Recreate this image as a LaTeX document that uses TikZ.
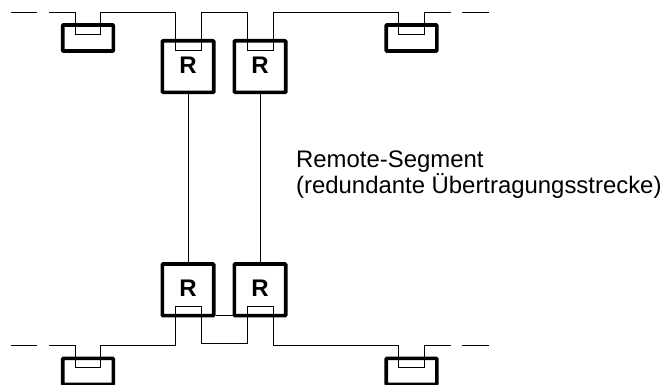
\documentclass[tikz,border=0pt]{standalone}
\usepackage{fontspec}
\setmainfont{Liberation Sans}
\tikzset{
  device/.style={draw=black,line width=3.6pt,rounded corners=0.8pt,fill=white,inner sep=0pt,minimum width=#1},
  hostbox/.style={device=50.6pt,minimum height=26pt},
  repeater/.style={device=51.4pt,minimum height=51.6pt},
  wire/.style={draw=black,line width=0.9pt,line join=miter},
  rlabel/.style={font=\bfseries\fontsize{24}{26}\selectfont,inner sep=0pt}
}
\begin{document}
\begin{tikzpicture}[x=1pt,y=-1pt]
\useasboundingbox (0,0) rectangle (663,384);
\clip (0,0) rectangle (663,384);
% devices
\node[hostbox] (h1) at (88,38) {};
\node[hostbox] (h2) at (411.5,38) {};
\node[hostbox] (h3) at (88,371.3) {};
\node[hostbox] (h4) at (411.5,371.3) {};
\node[repeater] (r1) at (188,66.5) {};
\node[repeater] (r2) at (260,66.5) {};
\node[repeater] (r3) at (188,289.8) {};
\node[repeater] (r4) at (260,289.8) {};
\node[rlabel] (l1) at (188,64.8) {R};
\node[rlabel] (l2) at (260,64.8) {R};
\node[rlabel] (l3) at (188,288) {R};
\node[rlabel] (l4) at (260,288) {R};
% bus points
\coordinate (a0) at (11,12.7); \coordinate (a1) at (37,12.7);
\coordinate (a2) at (49,12.7); \coordinate (a3) at (75,12.7);
\coordinate (a4) at (100.6,12.7); \coordinate (a5) at (175.3,12.7);
\coordinate (a6) at (201,12.7); \coordinate (a7) at (247.3,12.7);
\coordinate (a8) at (273,12.7); \coordinate (a9) at (398.3,12.7);
\coordinate (a10) at (424.3,12.7); \coordinate (a11) at (450.7,12.7);
\coordinate (a12) at (462,12.7); \coordinate (a13) at (488.7,12.7);
\coordinate (b0) at (11,345.7); \coordinate (b1) at (37,345.7);
\coordinate (b2) at (49,345.7); \coordinate (b3) at (75,345.7);
\coordinate (b4) at (100.6,345.7); \coordinate (b5) at (175.3,345.7);
\coordinate (b6) at (201,343.7); \coordinate (b7) at (247.3,343.7);
\coordinate (b8) at (273,345.7); \coordinate (b9) at (398.3,345.7);
\coordinate (b10) at (424.3,345.7); \coordinate (b11) at (450.7,345.7);
\coordinate (b12) at (462,345.7); \coordinate (b13) at (488.7,345.7);
% top
\draw[wire] (a0) -- (a1);
\draw[wire] (a2) -- (a3) -- (a3 |- 0,34) -- (a4 |- 0,34) -- (a4) -- (a5) -- (a5 |- 0,50) -- (a6 |- 0,50) -- (a6) -- (a7) -- (a7 |- 0,50) -- (a8 |- 0,50) -- (a8) -- (a9) -- (a9 |- 0,34) -- (a10 |- 0,34) -- (a10) -- (a11);
\draw[wire] (a12) -- (a13);
% bottom
\draw[wire] (b0) -- (b1);
\draw[wire] (b2) -- (b3) -- (b3 |- 0,367.3) -- (b4 |- 0,367.3) -- (b4) -- (b5) -- (b5 |- 0,306) -- (b6 |- 0,306) -- (b6) -- (b7) -- (b7 |- 0,306) -- (b8 |- 0,306) -- (b8) -- (b9) -- (b9 |- 0,367.3) -- (b10 |- 0,367.3) -- (b10) -- (b11);
\draw[wire] (b12) -- (b13);
% remote segment
\draw[wire] (r1.south -| l1) -- (r3.north -| l1);
\draw[wire] (r2.south -| l2) -- (r4.north -| l2);
\draw[wire] (r3.east |- 0,315) -- (r4.west |- 0,315);
\node[anchor=base west,align=left,inner sep=0pt,font=\fontsize{23.9}{21.5}\selectfont] (txt) at (296,193) {Remote-Segment\\(redundante Übertragungsstrecke)};
\end{tikzpicture}
\end{document}
